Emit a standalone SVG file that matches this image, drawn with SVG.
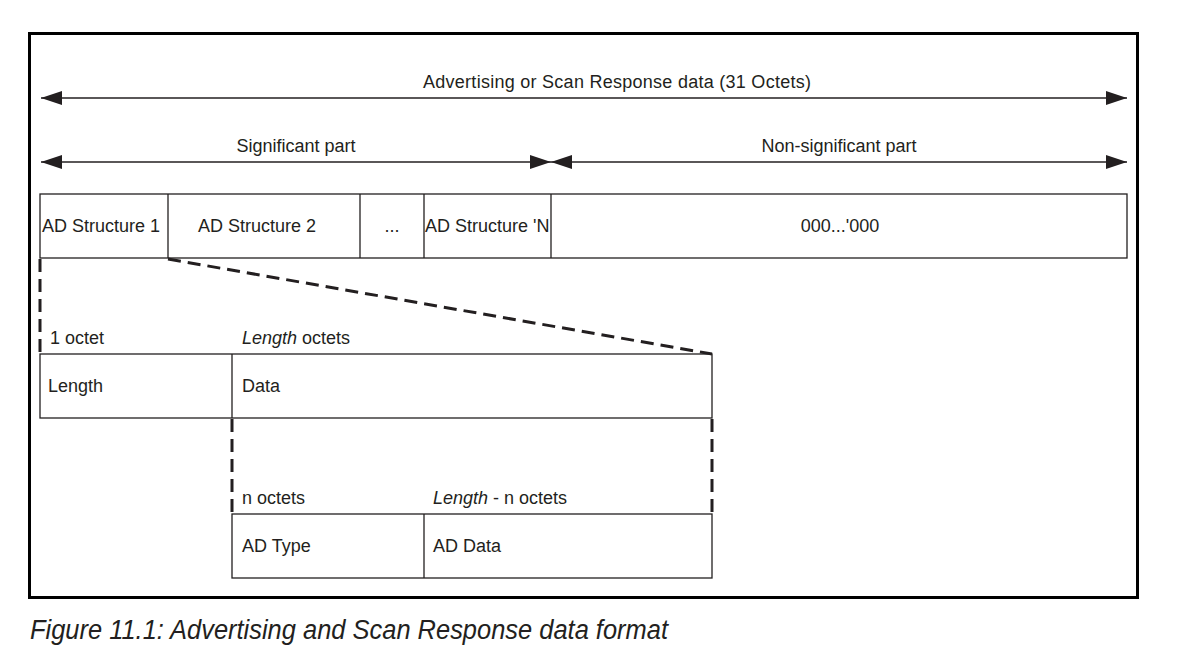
<svg xmlns="http://www.w3.org/2000/svg" width="1198" height="646" viewBox="0 0 1198 646">
  <style>
    text { font-family: "Liberation Sans", Arial, sans-serif; font-size: 18px; fill: #231f20; }
    .box { fill: none; stroke: #231f20; stroke-width: 1.3; }
    .arr { stroke: #231f20; stroke-width: 1.5; fill: none; }
    .dash { stroke: #231f20; stroke-width: 3; fill: none; stroke-dasharray: 13 7; }
    .mid { text-anchor: middle; }
  </style>
  <defs>
    <marker id="head" viewBox="0 0 21 14" refX="21" refY="7" markerWidth="21" markerHeight="14" markerUnits="userSpaceOnUse" orient="auto-start-reverse">
      <path d="M0,0 L21,7 L0,14 Z" fill="#231f20"/>
    </marker>
  </defs>
  <rect width="1198" height="646" fill="#fff"/>
  <!-- outer frame -->
  <rect x="29.5" y="33.5" width="1108" height="564" fill="none" stroke="#000" stroke-width="3"/>

  <g id="connectors">
    <line class="arr" x1="41" y1="98" x2="1127" y2="98" marker-start="url(#head)" marker-end="url(#head)"/>
    <line class="arr" x1="41" y1="162" x2="551" y2="162" marker-start="url(#head)" marker-end="url(#head)"/>
    <line class="arr" x1="551" y1="162" x2="1127" y2="162" marker-start="url(#head)" marker-end="url(#head)"/>
    <line class="dash" x1="40" y1="259" x2="40" y2="354"/>
    <line class="dash" x1="168" y1="259" x2="712" y2="354"/>
    <line class="dash" x1="232" y1="419" x2="232" y2="514"/>
    <line class="dash" x1="712" y1="419" x2="712" y2="514"/>
  </g>

  <g id="labels-top">
    <text class="mid" x="617" y="88" textLength="388" lengthAdjust="spacing">Advertising or Scan Response data (31 Octets)</text>
    <text class="mid" x="296" y="152">Significant part</text>
    <text class="mid" x="839" y="152">Non-significant part</text>
  </g>

  <g id="ad-structure-row">
    <rect class="box" x="40" y="194" width="1087" height="64"/>
    <line class="box" x1="168" y1="194" x2="168" y2="258"/>
    <line class="box" x1="360" y1="194" x2="360" y2="258"/>
    <line class="box" x1="424" y1="194" x2="424" y2="258"/>
    <line class="box" x1="551" y1="194" x2="551" y2="258"/>
    <text x="42" y="232">AD Structure 1</text>
    <text class="mid" x="257" y="232">AD Structure 2</text>
    <text class="mid" x="392" y="232">...</text>
    <text x="425" y="232">AD Structure 'N</text>
    <text class="mid" x="840" y="232">000...'000</text>
  </g>

  <g id="ad-structure">
    <text x="50" y="344">1 octet</text>
    <text x="242" y="344"><tspan font-style="italic">Length</tspan> octets</text>
    <rect class="box" x="40" y="354" width="672" height="64"/>
    <line class="box" x1="232" y1="354" x2="232" y2="418"/>
    <text x="48" y="392">Length</text>
    <text x="242" y="392">Data</text>
  </g>

  <g id="ad-data">
    <text x="242" y="504">n octets</text>
    <text x="433" y="504"><tspan font-style="italic">Length</tspan> - n octets</text>
    <rect class="box" x="232" y="514" width="480" height="64"/>
    <line class="box" x1="424" y1="514" x2="424" y2="578"/>
    <text x="242" y="552">AD Type</text>
    <text x="433" y="552">AD Data</text>
  </g>

  <text x="30" y="639" font-style="italic" style="font-size:27px" textLength="638" lengthAdjust="spacingAndGlyphs">Figure 11.1: Advertising and Scan Response data format</text>
</svg>
